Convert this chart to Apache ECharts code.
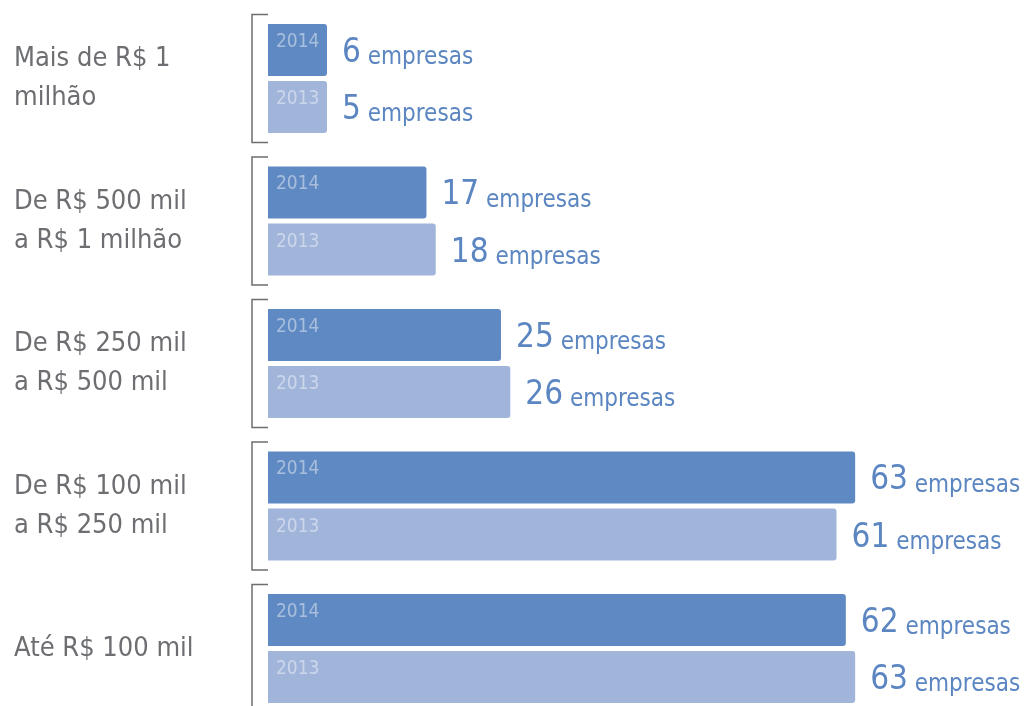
<!DOCTYPE html>
<html>
<head>
<meta charset="utf-8">
<script src="https://cdn.jsdelivr.net/npm/echarts@6/dist/echarts.min.js"></script>
<style>
html,body{margin:0;padding:0;background:#fff;}
#chart{width:1030px;height:706px;}
</style>
</head>
<body>
<div id="chart"></div>
<script>
var categories = ['Mais de R$ 1\nmilhão', 'De R$ 500 mil\na R$ 1 milhão', 'De R$ 250 mil\na R$ 500 mil', 'De R$ 100 mil\na R$ 250 mil', 'Até R$ 100 mil'];
var years = ['2014', '2013'];
var values2014 = [6, 17, 25, 63, 62];
var values2013 = [5, 18, 26, 61, 63];
var unitLabel = 'empresas';

var FONT = "'Liberation Sans Narrow', 'DejaVu Sans Condensed', Roboto, sans-serif";
var GRAY = '#6d6e71';
var DARK = '#5f89c2';
var LIGHT = '#a1b5db';
var VALCOL = '#5b86c1';
var BAR_W = 52;
var GAP = 5.2;

var chart = echarts.init(document.getElementById('chart'));

function valueLabel() {
  return {
    show: true,
    position: 'right',
    distance: 15,
    formatter: function (p) { return '{n|' + p.value + '}{e| ' + unitLabel + '}'; },
    rich: {
      n: { fontSize: 33, fontFamily: FONT, color: VALCOL, verticalAlign: 'bottom', lineHeight: 40 },
      e: { fontSize: 24, fontFamily: FONT, color: VALCOL, verticalAlign: 'bottom', lineHeight: 37 }
    }
  };
}

var option = {
  animation: false,
  grid: { left: 268, top: 7.25, width: 652.4, height: 712.5, outerBoundsMode: 'none', containLabel: false },
  xAxis: { type: 'value', min: 0, max: 70, show: false },
  yAxis: {
    type: 'category',
    data: categories,
    inverse: true,
    axisLine: { show: false },
    axisTick: { show: false },
    splitLine: { show: false },
    axisLabel: {
      align: 'left',
      margin: 254,
      color: GRAY,
      fontSize: 27,
      lineHeight: 39,
      fontFamily: FONT
    }
  },
  series: [
    {
      name: years[0],
      type: 'bar',
      data: values2014,
      barWidth: BAR_W,
      barGap: '10%',
      barMinHeight: 59,
      itemStyle: { color: DARK, borderRadius: [0, 3, 3, 0] },
      label: valueLabel()
    },
    {
      name: years[1],
      type: 'bar',
      data: values2013,
      barWidth: BAR_W,
      barGap: '10%',
      barMinHeight: 59,
      itemStyle: { color: LIGHT, borderRadius: [0, 3, 3, 0] },
      label: valueLabel()
    },
    {
      type: 'custom',
      clip: false,
      silent: true,
      z: 10,
      data: categories.map(function (c, i) { return [0, i]; }),
      encode: { x: 0, y: 1 },
      renderItem: function (params, api) {
        var pt = api.coord([0, api.value(1)]);
        var x0 = pt[0], cy = pt[1];
        var top = cy - 64, bot = cy + 64;
        return {
          type: 'group',
          children: [
            {
              type: 'polyline',
              shape: { points: [[x0, top], [x0 - 16, top], [x0 - 16, bot], [x0, bot]] },
              style: { stroke: GRAY, lineWidth: 1.5, fill: null }
            },
            {
              type: 'text',
              z2: 100,
              style: {
                text: years[0], x: x0 + 8, y: cy - GAP / 2 - BAR_W + 18,
                fill: 'rgba(255,255,255,0.45)', fontSize: 19, fontFamily: FONT,
                verticalAlign: 'middle', align: 'left'
              }
            },
            {
              type: 'text',
              z2: 100,
              style: {
                text: years[1], x: x0 + 8, y: cy + GAP / 2 + 18,
                fill: 'rgba(255,255,255,0.45)', fontSize: 19, fontFamily: FONT,
                verticalAlign: 'middle', align: 'left'
              }
            }
          ]
        };
      }
    }
  ]
};
chart.setOption(option);
</script>
</body>
</html>
